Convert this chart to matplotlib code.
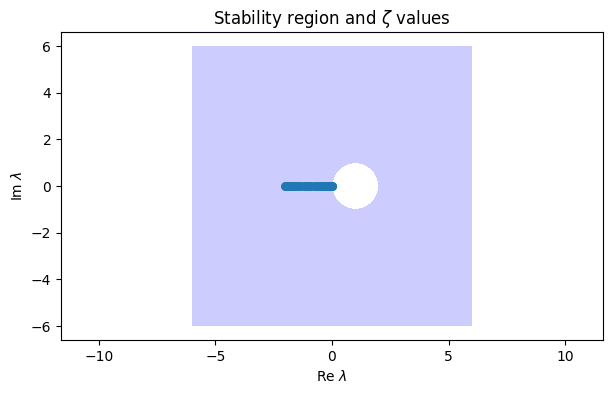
import numpy as np
import matplotlib
matplotlib.use("Agg")
import matplotlib.pyplot as plt

# stability region bounds and the unstable disk (backward Euler: |1 - z| < 1 is unstable)
region_lim = 6.0
disk_center = 1.0
disk_radius = 1.0

# zeta values (real, between -2 and 0)
zeta_re = [-2.0, -1.98, -1.93, -1.85, -1.75, -1.63, -1.5, -1.36, -1.21, -1.06,
           -0.94, -0.79, -0.64, -0.5, -0.37, -0.25, -0.15, -0.07, -0.02, 0.0]
zeta_im = [0.0] * len(zeta_re)

fig = plt.figure(figsize=(6.13, 3.94), dpi=100)
ax = fig.add_axes([61 / 613, 1 - 340 / 394, 542 / 613, 308 / 394])

x = np.linspace(-region_lim, region_lim, 800)
X, Y = np.meshgrid(x, x)
Z = X + 1j * Y
R = np.abs(Z - disk_center)
ax.contourf(X, Y, R, levels=[disk_radius, 1e6], colors=[(0.8, 0.8, 1.0)])

ax.plot(zeta_re, zeta_im, 'o', color='C0', markersize=5.5)

ax.set_xlim(-11.63, 11.63)
ax.set_ylim(-6.6, 6.6)
ax.set_xticks([-10, -5, 0, 5, 10])
ax.set_yticks([-6, -4, -2, 0, 2, 4, 6])
ax.set_xlabel(r'Re $\lambda$')
ax.set_ylabel(r'Im $\lambda$')
ax.set_title(r'Stability region and $\zeta$ values')

fig.savefig('out.png', dpi=100)
